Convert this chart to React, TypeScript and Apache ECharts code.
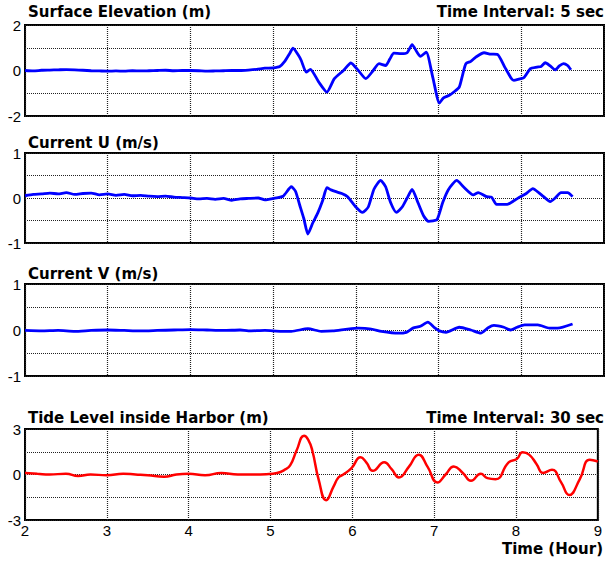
import React, { useEffect, useRef } from "react";
import * as echarts from "echarts";

// [hour, value]
const surfaceElevation: number[][] = [
  [2.0, 0.0], [2.1, -0.02], [2.2, 0.01], [2.3, 0.02], [2.4, 0.03], [2.5, 0.04], [2.6, 0.03], [2.7, 0.01],
  [2.8, -0.01], [2.9, -0.02], [3.0, -0.03], [3.1, -0.02], [3.2, -0.03], [3.3, -0.01], [3.4, -0.02],
  [3.5, -0.01], [3.6, 0.0], [3.7, 0.01], [3.8, -0.01], [3.9, 0.0], [4.0, 0.0], [4.1, -0.01], [4.2, -0.03],
  [4.3, -0.02], [4.4, -0.01], [4.5, 0.0], [4.6, 0.0], [4.7, 0.02], [4.8, 0.05], [4.9, 0.1], [5.0, 0.12],
  [5.08, 0.18], [5.14, 0.4], [5.2, 0.75], [5.24, 0.98], [5.3, 0.7], [5.34, 0.44], [5.4, -0.07], [5.45, 0.05],
  [5.55, -0.5], [5.65, -0.95], [5.74, -0.36], [5.85, 0.0], [5.94, 0.33], [6.03, 0.0], [6.12, -0.36],
  [6.2, -0.05], [6.28, 0.3], [6.36, 0.22], [6.41, 0.5], [6.46, 0.76], [6.55, 0.74], [6.62, 0.78],
  [6.68, 1.14], [6.74, 0.8], [6.78, 0.62], [6.85, 0.81], [6.93, -0.3], [7.01, -1.43], [7.06, -1.2],
  [7.13, -1.09], [7.2, -0.9], [7.25, -0.73], [7.29, -0.2], [7.33, 0.3], [7.39, 0.4], [7.45, 0.59],
  [7.55, 0.78], [7.63, 0.72], [7.71, 0.71], [7.8, 0.15], [7.88, -0.35], [7.91, -0.43], [7.97, -0.38],
  [8.03, -0.32], [8.11, 0.08], [8.19, 0.15], [8.24, 0.18], [8.29, 0.34], [8.35, 0.2], [8.41, 0.03],
  [8.46, 0.2], [8.51, 0.3], [8.56, 0.22], [8.6, 0.03],
];

const currentU: number[][] = [
  [2.0, 0.05], [2.1, 0.08], [2.2, 0.09], [2.3, 0.11], [2.4, 0.09], [2.5, 0.12], [2.6, 0.08], [2.7, 0.1],
  [2.8, 0.11], [2.9, 0.07], [3.0, 0.09], [3.1, 0.06], [3.2, 0.08], [3.3, 0.05], [3.4, 0.06], [3.5, 0.04],
  [3.6, 0.03], [3.7, 0.04], [3.8, 0.02], [3.9, 0.01], [4.0, 0.0], [4.1, -0.02], [4.2, -0.01], [4.3, -0.03],
  [4.4, -0.01], [4.5, -0.05], [4.6, -0.02], [4.7, -0.01], [4.82, 0.0], [4.9, -0.04], [5.0, -0.01],
  [5.12, 0.04], [5.22, 0.25], [5.27, 0.15], [5.32, -0.15], [5.37, -0.45], [5.42, -0.8], [5.48, -0.55],
  [5.54, -0.33], [5.6, -0.05], [5.65, 0.23], [5.7, 0.18], [5.76, 0.14], [5.83, 0.1], [5.9, 0.03],
  [6.0, -0.2], [6.08, -0.32], [6.15, -0.2], [6.22, 0.2], [6.3, 0.39], [6.36, 0.25], [6.42, -0.1],
  [6.49, -0.32], [6.56, -0.2], [6.62, 0.0], [6.68, 0.19], [6.75, -0.1], [6.82, -0.4], [6.88, -0.52],
  [6.98, -0.48], [7.05, -0.1], [7.12, 0.19], [7.22, 0.39], [7.3, 0.25], [7.42, 0.07], [7.48, 0.12],
  [7.58, 0.03], [7.64, 0.02], [7.7, -0.14], [7.83, -0.14], [7.92, -0.05], [7.99, 0.03], [8.06, 0.1],
  [8.14, 0.21], [8.21, 0.12], [8.27, 0.03], [8.35, -0.08], [8.41, 0.0], [8.48, 0.12], [8.56, 0.12],
  [8.62, 0.03],
];

const currentV: number[][] = [
  [2.0, -0.01], [2.2, -0.02], [2.4, -0.01], [2.6, -0.03], [2.8, -0.01], [3.0, 0.0], [3.2, -0.01],
  [3.4, -0.02], [3.6, -0.01], [3.8, 0.0], [4.0, 0.01], [4.2, 0.0], [4.4, -0.01], [4.6, 0.0], [4.7, -0.02],
  [4.9, -0.01], [5.1, -0.03], [5.22, -0.03], [5.42, 0.03], [5.58, -0.03], [5.72, -0.02], [5.9, 0.02],
  [6.03, 0.04], [6.19, 0.02], [6.31, -0.03], [6.51, -0.07], [6.61, -0.05], [6.69, 0.04], [6.78, 0.08],
  [6.87, 0.17], [6.95, 0.05], [7.01, -0.02], [7.09, -0.05], [7.25, 0.06], [7.39, 0.0], [7.51, -0.07],
  [7.6, 0.05], [7.67, 0.1], [7.79, 0.06], [7.87, 0.0], [7.95, 0.06], [8.04, 0.11], [8.2, 0.11],
  [8.34, 0.04], [8.44, 0.04], [8.62, 0.13],
];

const tideLevel: number[][] = [
  [2.0, 0.1], [2.15, 0.05], [2.3, 0.0], [2.5, 0.05], [2.65, -0.1], [2.8, 0.0], [3.0, -0.05], [3.2, 0.05],
  [3.35, 0.0], [3.5, -0.05], [3.7, -0.15], [3.85, 0.0], [4.0, 0.05], [4.2, -0.05], [4.4, 0.1], [4.6, 0.0],
  [4.8, 0.0], [4.95, 0.02], [5.08, 0.1], [5.17, 0.3], [5.24, 0.6], [5.32, 1.6], [5.41, 2.55], [5.46, 2.3],
  [5.51, 1.6], [5.59, -0.37], [5.68, -1.69], [5.77, -0.8], [5.83, -0.2], [5.89, 0.0], [5.99, 0.42],
  [6.1, 1.13], [6.17, 0.8], [6.25, 0.24], [6.39, 0.8], [6.48, 0.35], [6.57, -0.2], [6.69, 0.5],
  [6.81, 1.31], [6.92, 0.5], [7.04, -0.53], [7.14, 0.0], [7.24, 0.53], [7.35, 0.1], [7.45, -0.42],
  [7.57, 0.05], [7.65, -0.24], [7.75, -0.31], [7.91, 0.8], [8.01, 1.02], [8.08, 1.46], [8.16, 1.31],
  [8.25, 0.7], [8.33, 0.1], [8.44, 0.31], [8.55, -0.5], [8.65, -1.35], [8.78, -0.3], [8.9, 0.97],
  [9.0, 0.86],
];

const panelTitles = ["Surface Elevation (m)", "Current U (m/s)", "Current V (m/s)", "Tide Level inside Harbor (m)"];
const intervalTitles = ["Time Interval: 5 sec", "", "", "Time Interval: 30 sec"];
const xAxisTitle = "Time (Hour)";
const xRange = [2, 9];
const yMins = [-2, -1, -1, -3];
const yMaxs = [2, 1, 1, 3];
const yIntervals = [1, 0.5, 0.5, 1.5];
const yLabelSteps = [2, 1, 1, 3];

export default function App() {
  const ref = useRef<HTMLDivElement>(null);
  useEffect(() => {
    if (!ref.current) return;
    const chart = echarts.init(ref.current, null, { renderer: "svg" });
    const grids = [
      { top: 25, height: 91 },
      { top: 153, height: 90 },
      { top: 284, height: 92 },
      { top: 429, height: 91 },
    ];
    const titleY = [12, 143, 274, 418];
    const seriesData = [surfaceElevation, currentU, currentV, tideLevel];
    const colors = ["#0000ff", "#0000ff", "#0000ff", "#ff0000"];
    const font = "Liberation Sans, Arial, sans-serif";
    const titleFont = "bold 15px DejaVu Sans, sans-serif";
    const splitLine = { show: true, lineStyle: { color: "#222", type: [1, 1] as any, width: 1.2 } };
    const graphics: any[] = [];
    panelTitles.forEach((t, i) => {
      graphics.push({
        type: "text", x: 28, y: titleY[i],
        style: { text: t, font: titleFont, fill: "#000", textAlign: "left", textVerticalAlign: "middle" },
      });
      if (intervalTitles[i]) {
        graphics.push({
          type: "text", x: 604, y: titleY[i],
          style: { text: intervalTitles[i], font: titleFont, fill: "#000", textAlign: "right", textVerticalAlign: "middle" },
        });
      }
    });
    graphics.push({
      type: "text", x: 603, y: 549,
      style: { text: xAxisTitle, font: titleFont, fill: "#000", textAlign: "right", textVerticalAlign: "middle" },
    });
    chart.setOption({
      animation: false,
      backgroundColor: "#fff",
      grid: grids.map((g) => ({
        left: 25, right: 1, top: g.top, height: g.height,
        show: true, borderColor: "#000", borderWidth: 2, backgroundColor: "transparent",
      })),
      xAxis: grids.map((_, i) => ({
        type: "value", gridIndex: i, min: xRange[0], max: xRange[1], interval: 1,
        axisLine: { show: false }, axisTick: { show: false },
        splitLine,
        axisLabel: { show: i === 3, color: "#000", fontFamily: font, fontSize: 15, margin: 3 },
      })),
      yAxis: grids.map((_, i) => ({
        type: "value", gridIndex: i, min: yMins[i], max: yMaxs[i], interval: yIntervals[i],
        axisLine: { show: false }, axisTick: { show: false },
        splitLine,
        axisLabel: {
          color: "#000", fontFamily: font, fontSize: 15, margin: 4,
          formatter: (v: number) => (Math.abs(v % yLabelSteps[i]) < 1e-9 ? String(v) : ""),
        },
      })),
      series: seriesData.map((d, i) => ({
        type: "line", xAxisIndex: i, yAxisIndex: i, data: d, showSymbol: false,
        smooth: i === 3 ? 0.5 : 0.2,
        lineStyle: { color: colors[i], width: i === 3 ? 2.5 : 2.8 },
      })),
      graphic: graphics,
    });
    return () => chart.dispose();
  }, []);
  return <div ref={ref} style={{ position: "fixed", left: 0, top: 0, width: 605, height: 563 }} />;
}
